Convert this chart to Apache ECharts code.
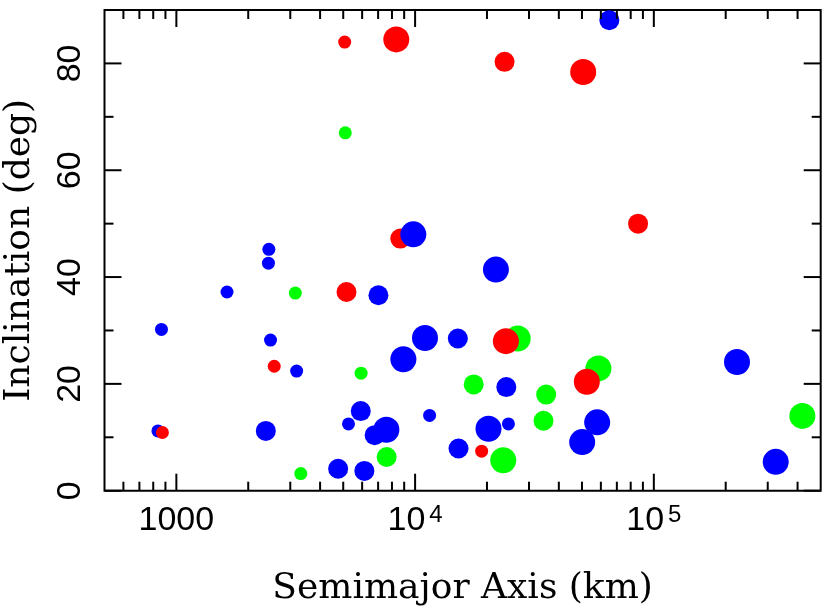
<!DOCTYPE html>
<html>
<head>
<meta charset="utf-8">
<script src="https://cdn.jsdelivr.net/npm/echarts@6/dist/echarts.min.js"></script>
<style>
  html, body { margin: 0; padding: 0; background: #fff; }
  #chart { width: 830px; height: 612px; }
</style>
</head>
<body>
<div id="chart"></div>
<script>
// ---- data (plotting order) ----
// group: 'g' green, 'b' blue, 'r' red ; sizeClass: 1 small, 2 medium, 3 large
const semimajorAxis = [
  3150, 5100, 3320, 5940, 7600, 17600, 26900, 23400, 35400, 34500, 58600, 419000,
  8670,
  2440, 2430, 1630, 866, 2480, 3190, 837, 2370, 4760, 6130, 5920, 5260, 6770, 7580, 7020,
  9830, 8930, 11000, 11500, 15100, 15200, 21800, 20300, 24100, 24600, 50100, 57900, 65100,
  223000, 324000,
  874, 2570, 5160, 5070, 8340, 23700, 50600, 85900, 24000, 19000, 52400
];
const inclination = [
  37.0, 67.0, 3.2, 22.0, 6.3, 19.9, 28.5, 5.7, 18.0, 13.1, 22.9, 14.0,
  47.2,
  45.2, 42.6, 37.2, 30.2, 28.2, 22.4, 11.2, 11.2, 4.1, 3.7, 14.9, 12.5, 10.4, 11.4, 36.6,
  48.0, 24.6, 28.6, 14.1, 28.5, 7.9, 41.4, 11.6, 19.4, 12.5, 9.1, 12.8, 88.1,
  24.1, 5.4,
  10.9, 23.3, 37.2, 84.0, 84.5, 80.3, 78.4, 50.0, 28.0, 7.4, 20.4
];
const sizeClass = [
  1, 1, 1, 1, 2, 2, 3, 3, 2, 2, 3, 3,
  2,
  1, 1, 1, 1, 1, 1, 1, 2, 2, 2, 2, 1, 2, 3, 2,
  3, 3, 3, 1, 2, 2, 3, 3, 2, 1, 3, 3, 2,
  3, 3,
  1, 1, 2, 1, 3, 2, 3, 2, 3, 1, 3
];
const group = [
  'g','g','g','g','g','g','g','g','g','g','g','g',
  'r',
  'b','b','b','b','b','b','b','b','b','b','b','b','b','b','b',
  'b','b','b','b','b','b','b','b','b','b','b','b','b',
  'b','b',
  'r','r','r','r','r','r','r','r','r','r','r'
];
const xMajorTicks = [1000, 10000, 100000];
const xMinorTicks = [600, 700, 800, 900, 2000, 3000, 4000, 5000, 6000, 7000, 8000, 9000,
  20000, 30000, 40000, 50000, 60000, 70000, 80000, 90000, 200000, 300000, 400000];
const yMajorTicks = [0, 20, 40, 60, 80];
const yMinorTicks = [10, 30, 50, 70];

// ---- styles ----
const groupColor = { g: '#00ff00', b: '#0000ff', r: '#ff0000' };
const sizePx = { 1: 13, 2: 20, 3: 26 };

const points = semimajorAxis.map((a, i) => ({
  value: [a, inclination[i]],
  symbolSize: sizePx[sizeClass[i]],
  itemStyle: { color: groupColor[group[i]], opacity: 1 }
}));

function xTickSeries(vals, len) {
  return {
    type: 'custom', silent: true, z: 10, animation: false,
    data: vals.map(v => [v, 45]),
    renderItem: function (params, api) {
      const cs = params.coordSys;
      const px = api.coord([api.value(0), 45])[0];
      const st = { stroke: '#000', lineWidth: 2 };
      return { type: 'group', children: [
        { type: 'line', shape: { x1: px, y1: cs.y + cs.height, x2: px, y2: cs.y + cs.height - len }, style: st },
        { type: 'line', shape: { x1: px, y1: cs.y, x2: px, y2: cs.y + len }, style: st }
      ]};
    }
  };
}
function yTickSeries(vals, len) {
  return {
    type: 'custom', silent: true, z: 10, animation: false,
    data: vals.map(v => [1000, v]),
    renderItem: function (params, api) {
      const cs = params.coordSys;
      const py = api.coord([1000, api.value(1)])[1];
      const st = { stroke: '#000', lineWidth: 2 };
      return { type: 'group', children: [
        { type: 'line', shape: { x1: cs.x, y1: py, x2: cs.x + len, y2: py }, style: st },
        { type: 'line', shape: { x1: cs.x + cs.width, y1: py, x2: cs.x + cs.width - len, y2: py }, style: st }
      ]};
    }
  };
}

const chart = echarts.init(document.getElementById('chart'), null, { renderer: 'canvas' });
chart.setOption({
  animation: false,
  backgroundColor: '#fff',
  grid: {
    left: 104.5, right: 9.3, top: 10, bottom: 121.3,
    show: true, borderColor: '#000', borderWidth: 2, backgroundColor: 'transparent',
    outerBoundsMode: 'none', containLabel: false
  },
  xAxis: {
    type: 'log', logBase: 10, min: 500, max: 500000,
    axisLine: { show: false }, axisTick: { show: false }, splitLine: { show: false },
    axisLabel: {
      margin: 13,
      formatter: function (v) {
        const l = Math.log10(v), e = Math.round(l);
        if (Math.abs(l - e) > 1e-6) return '';
        if (e === 3) return '{n|1000}';
        return '{n|10}{s|' + e + '}';
      },
      rich: {
        n: { fontSize: 34, lineHeight: 34, fontFamily: 'Liberation Sans', color: '#000' },
        s: { fontSize: 24, lineHeight: 13, verticalAlign: 'top', fontFamily: 'Liberation Sans', color: '#000', padding: [0, 0, 0, 4] }
      }
    },
    name: 'Semimajor Axis (km)', nameLocation: 'middle', nameGap: 80,
    nameTextStyle: { fontFamily: 'DejaVu Serif', fontSize: 36, color: '#000' }
  },
  yAxis: {
    type: 'value', min: 0, max: 90, interval: 10,
    axisLine: { show: false }, axisTick: { show: false }, splitLine: { show: false },
    axisLabel: {
      rotate: 90, margin: 17, fontSize: 34, fontFamily: 'Liberation Sans', color: '#000',
      formatter: function (v) { return (v % 20 === 0 && v < 90) ? String(v) : ''; }
    },
    name: 'Inclination (deg)', nameLocation: 'middle', nameGap: 67,
    nameTextStyle: { fontFamily: 'DejaVu Serif', fontSize: 36, color: '#000' }
  },
  series: [
    {
      type: 'scatter', symbol: 'circle', data: points, silent: true,
      itemStyle: { opacity: 1 },
      emphasis: { disabled: true }
    },
    xTickSeries(xMajorTicks, 17),
    xTickSeries(xMinorTicks, 9),
    yTickSeries(yMajorTicks, 17),
    yTickSeries(yMinorTicks, 9)
  ]
});
</script>
</body>
</html>
